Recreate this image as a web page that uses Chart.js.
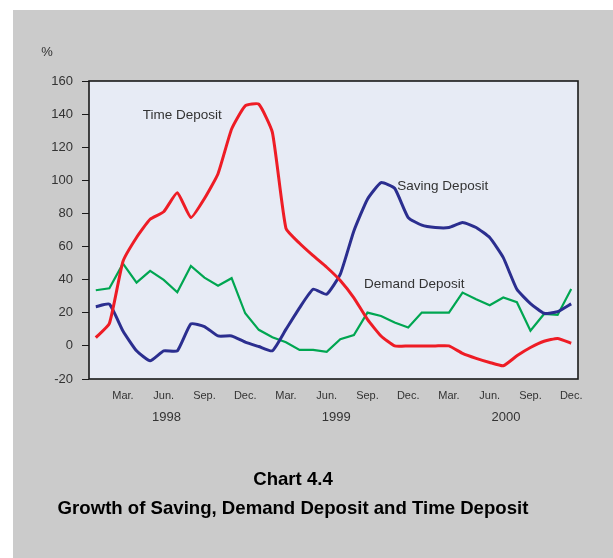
<!DOCTYPE html>
<html>
<head>
<meta charset="utf-8">
<script src="https://cdn.jsdelivr.net/npm/chart.js@4.4.0/dist/chart.umd.min.js"></script>
<style>
  body { margin: 0; background: #ffffff; }
  #bg { position: absolute; left: 13px; top: 10px; right: 0; bottom: 0; width: 600px; height: 548px; background: #cbcbcb; }
  #growth { position: absolute; left: 0; top: 0; }
</style>
</head>
<body>
<div id="bg"></div>
<canvas id="growth" width="613" height="558"></canvas>
<script>
// monthly growth rates, Jan. 1998 - Dec. 2000 (%)
var monthNames = ['Jan.', 'Feb.', 'Mar.', 'Apr.', 'May', 'Jun.', 'Jul.', 'Aug.', 'Sep.', 'Oct.', 'Nov.', 'Dec.'];
var years = ['1998', '1999', '2000'];
var shownMonths = ['Mar.', 'Jun.', 'Sep.', 'Dec.'];
var yTicks = [-20, 0, 20, 40, 60, 80, 100, 120, 140, 160];

var timeDeposit = [5, 13.5, 51, 65.5, 76.5, 81, 92.5, 77.5, 89, 104, 131, 145,
                   146, 129, 71, 62, 54.5, 47.5, 39.5, 29, 16, 6, 0, 0,
                   0, 0, 0, -4.5, -7.5, -10, -12, -6, -1, 2.8, 4.5, 1.6];
var savingDeposit = [23.7, 25.2, 9, -3, -9, -3, -3, 13.3, 11.7, 6, 6, 2.3,
                     -0.4, -3, 10, 23, 34.2, 31.2, 43.3, 69.4, 88.6, 98.6, 95.2, 77.5,
                     72.9, 71.5, 71.5, 74.5, 71.5, 65.4, 53.3, 34.2, 25.6, 19.7, 20.7, 25.4];
var demandDeposit = [33.6, 34.8, 49.7, 38.2, 45.3, 39.9, 32.4, 48.3, 41.2, 36.4, 40.9, 19.7,
                     9.7, 5.2, 2.2, -2.4, -2.4, -3.6, 4, 6.6, 20.1, 18.1, 14.1, 11.1,
                     20.1, 20.1, 20.1, 32.2, 28.2, 24.6, 29.2, 26.4, 9.2, 19.3, 18.7, 34.4];

var seriesNames = ['Time Deposit', 'Saving Deposit', 'Demand Deposit'];
var titleLines = ['Chart 4.4', 'Growth of Saving, Demand Deposit and Time Deposit'];

var labels = [];
for (var y = 0; y < years.length; y++) {
	for (var m = 0; m < monthNames.length; m++) {
		labels.push(monthNames[m]);
	}
}

var FONT = "'Liberation Sans', Arial, sans-serif";

// background of plot, box, free texts
var decor = {
	id: 'decor',
	beforeDraw: function(chart) {
		var a = chart.chartArea, c = chart.ctx;
		c.save();
		c.fillStyle = '#e7ebf5';
		c.fillRect(a.left, a.top, a.right - a.left, a.bottom - a.top);
		c.restore();
	},
	afterDraw: function(chart) {
		var a = chart.chartArea, c = chart.ctx;
		var xs = chart.scales.x, ys = chart.scales.y;
		c.save();
		c.strokeStyle = '#1a1a1a';
		c.lineWidth = 1.6;
		c.strokeRect(a.left, a.top, a.right - a.left, a.bottom - a.top);

		c.fillStyle = '#333';
		c.font = '13px ' + FONT;
		c.textAlign = 'center';
		c.textBaseline = 'middle';
		c.fillText('%', 47, 52);

		// years under the month labels
		var yearAt = [5.2, 17.7, 30.2];
		c.font = '13px ' + FONT;
		for (var i = 0; i < years.length; i++) {
			c.fillText(years[i], xs.getPixelForValue(yearAt[i]), 417);
		}

		// series names next to their lines
		var spots = [[3.45, 139.5], [22.2, 96.6], [19.75, 37.4]];
		c.textAlign = 'left';
		c.font = '13.5px ' + FONT;
		for (var k = 0; k < seriesNames.length; k++) {
			c.fillText(seriesNames[k], xs.getPixelForValue(spots[k][0]), ys.getPixelForValue(spots[k][1]));
		}

		// chart title
		c.fillStyle = '#000';
		c.textAlign = 'center';
		c.font = 'bold 18.6px ' + FONT;
		c.fillText(titleLines[0], 293, 480);
		c.fillText(titleLines[1], 293, 509);
		c.restore();
	}
};

var ctx = document.getElementById('growth');

var data = {
	labels: labels,
	datasets: [
		{
			label: seriesNames[0],
			data: timeDeposit,
			borderColor: '#ee1c25',
			borderWidth: 3,
			pointRadius: 0,
			lineTension: 0.15,
			fill: false
		},
		{
			label: seriesNames[1],
			data: savingDeposit,
			borderColor: '#2b2e8f',
			borderWidth: 3,
			pointRadius: 0,
			lineTension: 0.15,
			fill: false
		},
		{
			label: seriesNames[2],
			data: demandDeposit,
			borderColor: '#00a651',
			borderWidth: 2.2,
			pointRadius: 0,
			lineTension: 0,
			fill: false
		}
	]
};

var options = {
	responsive: false,
	animation: false,
	layout: {
		padding: { left: 0, top: 81, right: 35, bottom: 129 }
	},
	plugins: {
		legend: { display: false },
		title: { display: false },
		tooltip: { enabled: false }
	},
	scales: {
		x: {
			type: 'category',
			offset: true,
			grid: { display: false, drawTicks: false },
			border: { display: false },
			ticks: {
				autoSkip: false,
				maxRotation: 0,
				padding: 10,
				color: '#333',
				font: { family: FONT, size: 11 },
				callback: function(value, index) {
					var name = labels[index];
					return shownMonths.indexOf(name) >= 0 ? name : '';
				}
			},
			afterFit: function(scale) { scale.height = 50; }
		},
		y: {
			min: -20,
			max: 160,
			afterBuildTicks: function(scale) {
				scale.ticks = yTicks.map(function(v) { return { value: v }; });
			},
			grid: {
				drawOnChartArea: false,
				drawTicks: true,
				tickLength: 7,
				color: '#1a1a1a'
			},
			border: { display: false },
			ticks: {
				padding: 9,
				color: '#333',
				font: { family: FONT, size: 13 }
			},
			afterFit: function(scale) { scale.width = 89; }
		}
	}
};

var chart = new Chart(ctx, {
	type: 'line',
	data: data,
	options: options,
	plugins: [decor]
});
</script>
</body>
</html>
